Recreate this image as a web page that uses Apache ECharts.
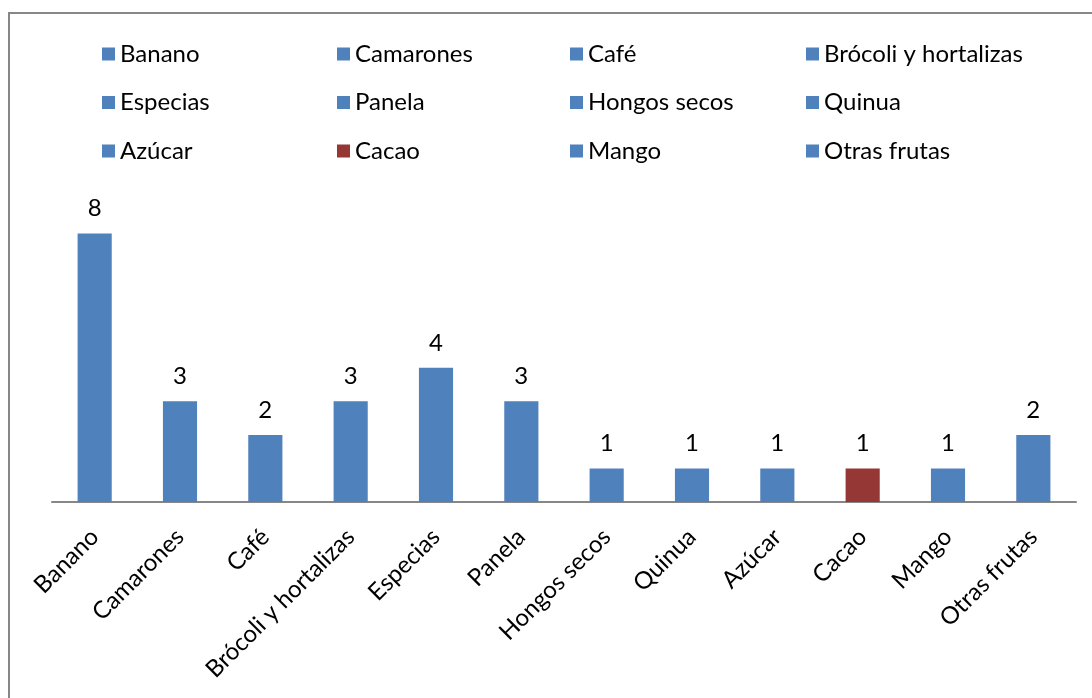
<!DOCTYPE html>
<html>
<head>
<meta charset="utf-8">
<script src="https://cdn.jsdelivr.net/npm/echarts@6/dist/echarts.min.js"></script>
<style>
  html, body { margin: 0; padding: 0; background: #fff; }
  #chart { width: 1092px; height: 698px; }
</style>
</head>
<body>
<div id="chart"></div>
<script>
// Productos y número de casos
const categories = ['Banano', 'Camarones', 'Café', 'Brócoli y hortalizas', 'Especias', 'Panela',
  'Hongos secos', 'Quinua', 'Azúcar', 'Cacao', 'Mango', 'Otras frutas'];
const values = [8, 3, 2, 3, 4, 3, 1, 1, 1, 1, 1, 2];

const BLUE = '#4F81BD';
const RED = '#953735';
const highlighted = 'Cacao';
const FONT = 'Lato';
const FS = 24;

// One series per product, stacked so every bar sits centred on its own category
const series = categories.map((name, i) => ({
  name: name,
  type: 'bar',
  stack: 'all',
  barWidth: '40%',
  itemStyle: { color: name === highlighted ? RED : BLUE },
  label: {
    show: true, position: 'top', distance: 13,
    color: '#000', fontFamily: FONT, fontSize: FS
  },
  data: categories.map((c, j) => (j === i ? values[i] : '-'))
}));

// Four legend columns, three rows each
const colLeft = [97, 332, 565, 801];
const legends = colLeft.map((left, col) => ({
  orient: 'vertical',
  left: left,
  top: 37,
  itemWidth: 13,
  itemHeight: 13,
  itemGap: 24.5,
  icon: 'rect',
  selectedMode: false,
  textStyle: { color: '#000', fontFamily: FONT, fontSize: FS, padding: [0, 0, 0, 0] },
  data: [0, 1, 2].map(row => categories[row * 4 + col])
}));

const chart = echarts.init(document.getElementById('chart'));
chart.setOption({
  animation: false,
  backgroundColor: '#fff',
  graphic: [{
    type: 'rect',
    shape: { x: 9, y: 13, width: 1100, height: 700 },
    style: { fill: 'none', stroke: '#878787', lineWidth: 2 },
    silent: true
  }],
  legend: legends,
  grid: { left: 52, right: 16, top: 200, bottom: 196, containLabel: false },
  xAxis: {
    type: 'category',
    data: categories,
    axisLine: { lineStyle: { color: '#878787', width: 2 } },
    axisTick: { show: false },
    axisLabel: {
      rotate: 45, interval: 0, margin: 31,
      color: '#000', fontFamily: FONT, fontSize: FS
    }
  },
  yAxis: {
    type: 'value', min: 0, max: 9,
    show: false,
    splitLine: { show: false }
  },
  series: series
});
</script>
</body>
</html>
